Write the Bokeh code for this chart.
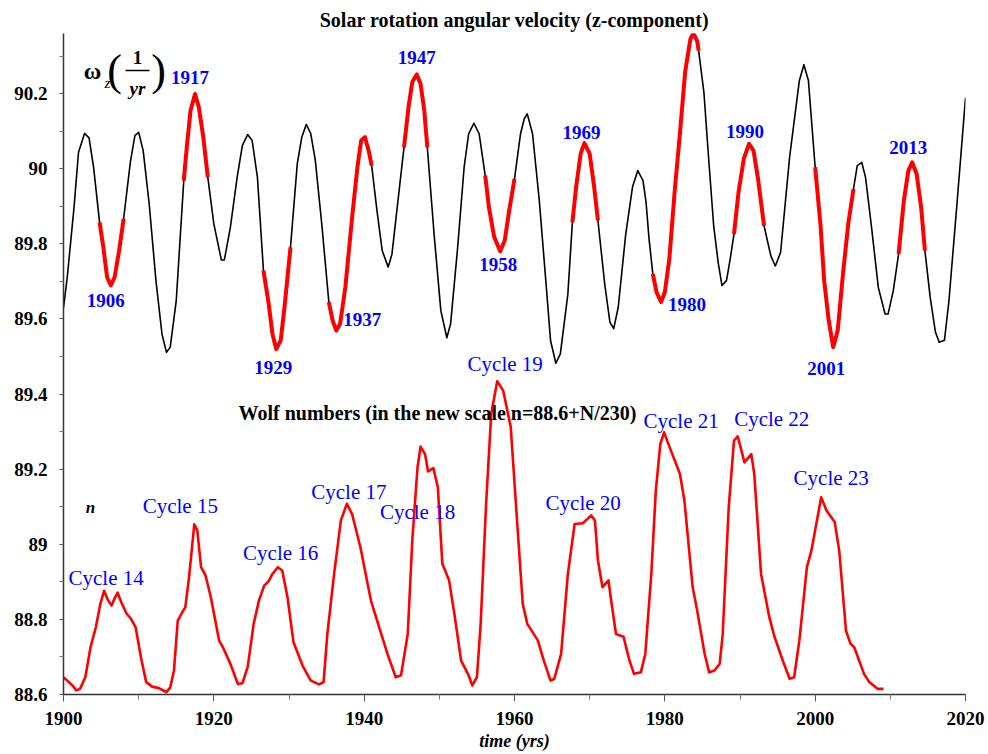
import numpy as np
from bokeh.plotting import figure
from bokeh.models import Range1d, Label, FixedTicker, ColumnDataSource
from bokeh.embed import file_html
from bokeh.resources import INLINE
from bokeh.core.properties import value

# ---------------- data ----------------
omega_years = [1900.0, 1900.5, 1901.4, 1902.0, 1902.8, 1903.4, 1904.0, 1904.8, 1905.3, 1905.8,
               1906.3, 1906.8, 1907.4, 1908.0, 1908.9, 1909.5, 1910.0, 1910.6, 1911.4, 1912.3,
               1913.1, 1913.7, 1914.2, 1915.0, 1916.0, 1916.4, 1916.9, 1917.5, 1918.0, 1918.6,
               1919.2, 1920.0, 1921.0, 1921.4, 1922.2, 1923.1, 1923.8, 1924.5, 1925.1, 1925.8,
               1926.6, 1927.3, 1927.8, 1928.3, 1928.9, 1929.4, 1930.2, 1931.1, 1931.7, 1932.3,
               1932.9, 1933.5, 1934.4, 1935.3, 1935.8, 1936.3, 1936.8, 1937.5, 1938.4, 1939.1,
               1939.6, 1940.1, 1940.6, 1941.0, 1941.7, 1942.4, 1943.2, 1943.7, 1944.6, 1945.3,
               1945.9, 1946.4, 1947.0, 1947.5, 1948.0, 1948.4, 1949.3, 1950.2, 1951.0, 1951.5,
               1952.4, 1953.3, 1953.9, 1954.6, 1955.3, 1956.1, 1956.6, 1957.3, 1958.1, 1958.7,
               1959.3, 1960.0, 1960.8, 1961.3, 1961.7, 1962.4, 1963.3, 1964.2, 1964.8, 1965.5,
               1966.1, 1967.1, 1967.7, 1968.2, 1968.8, 1969.3, 1970.0, 1970.6, 1971.1, 1972.0,
               1972.7, 1973.2, 1973.8, 1974.8, 1975.7, 1976.4, 1977.1, 1977.5, 1977.9, 1978.4,
               1978.9, 1979.5, 1980.0, 1980.6, 1981.3, 1982.1, 1982.7, 1983.4, 1983.8, 1984.3,
               1984.5, 1985.2, 1985.9, 1986.5, 1987.1, 1987.6, 1988.2, 1988.7, 1989.2, 1989.8,
               1990.5, 1991.2, 1991.8, 1992.4, 1993.2, 1994.1, 1994.7, 1995.4, 1996.6, 1997.9,
               1998.5, 1999.1, 2000.0, 2000.7, 2001.2, 2001.8, 2002.4, 2003.0, 2003.7, 2004.4,
               2005.1, 2005.6, 2006.2, 2006.7, 2007.5, 2008.4, 2009.3, 2009.7, 2010.4, 2011.1,
               2011.8, 2012.4, 2012.9, 2013.5, 2014.1, 2014.6, 2015.3, 2016.0, 2016.5, 2017.2,
               2017.8, 2018.9, 2020.0]
omega_values = [89.630, 89.711, 89.897, 90.044, 90.094, 90.082, 90.004, 89.857, 89.791, 89.711,
                89.689, 89.711, 89.782, 89.867, 90.018, 90.088, 90.097, 90.048, 89.906, 89.702,
                89.560, 89.511, 89.525, 89.649, 89.968, 90.057, 90.155, 90.199, 90.164, 90.084,
                89.977, 89.853, 89.757, 89.757, 89.844, 89.977, 90.062, 90.091, 90.075, 89.977,
                89.729, 89.640, 89.560, 89.520, 89.543, 89.631, 89.791, 90.013, 90.084, 90.118,
                90.093, 90.022, 89.844, 89.645, 89.596, 89.569, 89.587, 89.685, 89.871, 90.004,
                90.075, 90.084, 90.048, 90.008, 89.889, 89.782, 89.738, 89.773, 89.933, 90.057,
                90.164, 90.231, 90.251, 90.226, 90.155, 90.057, 89.826, 89.622, 89.550, 89.587,
                89.782, 90.004, 90.093, 90.121, 90.093, 89.982, 89.897, 89.818, 89.780, 89.809,
                89.889, 89.973, 90.093, 90.133, 90.146, 90.093, 89.915, 89.693, 89.542, 89.482,
                89.507, 89.666, 89.857, 89.951, 90.040, 90.068, 90.040, 89.951, 89.862, 89.693,
                89.591, 89.574, 89.631, 89.826, 89.951, 89.995, 89.968, 89.911, 89.813, 89.720,
                89.671, 89.645, 89.671, 89.760, 89.937, 90.115, 90.257, 90.345, 90.361, 90.340,
                90.314, 90.203, 90.008, 89.848, 89.750, 89.689, 89.702, 89.760, 89.826, 89.937,
                90.026, 90.066, 90.048, 89.973, 89.848, 89.768, 89.741, 89.777, 90.031, 90.235,
                90.277, 90.235, 90.004, 89.853, 89.702, 89.596, 89.525, 89.569, 89.720, 89.853,
                89.946, 90.008, 90.017, 89.977, 89.844, 89.684, 89.613, 89.613, 89.676, 89.773,
                89.915, 89.995, 90.017, 89.986, 89.897, 89.782, 89.658, 89.565, 89.538, 89.543,
                89.649, 89.915, 90.189]

# highlighted (red) stretches of the omega curve: start, end years
hl_start = [1904.8, 1916.0, 1926.6, 1935.3, 1945.3, 1956.1, 1967.7, 1978.4, 1989.2, 2000.0, 2011.1]
hl_end   = [1908.0, 1919.2, 1930.2, 1941.0, 1948.4, 1960.0, 1971.1, 1984.5, 1993.2, 2005.1, 2014.6]
hl_labels = ["1906", "1917", "1929", "1937", "1947", "1958", "1969", "1980", "1990", "2001", "2013"]
hl_kind   = ["min", "max", "min", "min", "max", "min", "max", "min", "max", "min", "max"]

wolf_years = [1900.0, 1900.5, 1901.2, 1901.7, 1902.2, 1902.9, 1903.6, 1904.3, 1904.9, 1905.4,
              1905.9, 1906.4, 1906.8, 1907.2, 1907.7, 1908.4, 1909.0, 1909.6, 1910.3, 1911.0,
              1911.8, 1912.7, 1913.7, 1914.2, 1914.7, 1915.2, 1915.8, 1916.2, 1916.7, 1917.4,
              1917.8, 1918.3, 1918.9, 1919.6, 1920.7, 1921.3, 1922.2, 1923.2, 1923.8, 1924.5,
              1925.3, 1926.0, 1926.7, 1927.3, 1927.8, 1928.5, 1929.1, 1929.8, 1930.6, 1931.8,
              1932.9, 1934.0, 1934.6, 1935.1, 1936.0, 1936.9, 1937.7, 1938.4, 1939.5, 1940.9,
              1942.0, 1943.1, 1944.2, 1944.9, 1945.8, 1946.4, 1947.1, 1947.5, 1948.1, 1948.5,
              1949.2, 1949.8, 1950.4, 1951.3, 1952.0, 1952.9, 1953.8, 1954.4, 1955.0, 1955.5,
              1956.2, 1956.9, 1957.7, 1958.5, 1959.5, 1960.4, 1961.1, 1961.7, 1963.1, 1963.9,
              1964.8, 1965.3, 1966.2, 1967.1, 1968.0, 1969.1, 1970.2, 1970.7, 1971.1, 1971.7,
              1972.5, 1972.8, 1973.5, 1974.5, 1975.3, 1975.9, 1976.8, 1977.4, 1978.2, 1978.8,
              1979.4, 1979.9, 1980.8, 1982.0, 1982.6, 1983.7, 1984.3, 1985.3, 1985.9, 1986.6,
              1987.3, 1987.7, 1988.5, 1989.2, 1989.7, 1990.6, 1991.5, 1991.9, 1992.8, 1993.9,
              1994.6, 1995.7, 1996.6, 1997.2, 1997.9, 1998.9, 1999.5, 2000.8, 2001.5, 2002.6,
              2003.2, 2004.1, 2004.7, 2005.2, 2006.5, 2007.2, 2008.3, 2009.1]
wolf_values = [88.646, 88.637, 88.624, 88.611, 88.615, 88.646, 88.726, 88.779, 88.841, 88.876,
               88.852, 88.837, 88.856, 88.871, 88.845, 88.815, 88.801, 88.779, 88.699, 88.633,
               88.621, 88.617, 88.606, 88.619, 88.664, 88.797, 88.819, 88.832, 88.912, 89.053,
               89.037, 88.939, 88.917, 88.859, 88.744, 88.722, 88.682, 88.628, 88.630, 88.673,
               88.788, 88.850, 88.890, 88.902, 88.921, 88.939, 88.930, 88.859, 88.739, 88.677,
               88.637, 88.627, 88.633, 88.761, 88.921, 89.063, 89.108, 89.080, 88.992, 88.850,
               88.779, 88.708, 88.646, 88.651, 88.761, 89.010, 89.205, 89.260, 89.240, 89.194,
               89.203, 89.152, 88.948, 88.904, 88.815, 88.690, 88.655, 88.624, 88.646, 88.788,
               89.099, 89.347, 89.434, 89.409, 89.312, 89.045, 88.841, 88.788, 88.744, 88.690,
               88.637, 88.642, 88.708, 88.921, 89.054, 89.056, 89.077, 89.063, 88.957, 88.886,
               88.904, 88.859, 88.761, 88.754, 88.690, 88.655, 88.659, 88.708, 88.921, 89.143,
               89.267, 89.298, 89.250, 89.188, 89.117, 88.886, 88.824, 88.708, 88.659, 88.664,
               88.682, 88.761, 89.099, 89.276, 89.287, 89.218, 89.240, 89.187, 88.921, 88.806,
               88.753, 88.690, 88.642, 88.646, 88.744, 88.939, 88.983, 89.125, 89.090, 89.059,
               88.983, 88.770, 88.735, 88.726, 88.655, 88.633, 88.615, 88.615]

cycle_labels = ["Cycle 14", "Cycle 15", "Cycle 16", "Cycle 17", "Cycle 18",
                "Cycle 19", "Cycle 20", "Cycle 21", "Cycle 22", "Cycle 23"]
cycle_peak_years = [1905.4, 1917.4, 1928.5, 1937.7, 1947.5, 1957.7, 1970.2, 1979.9, 1989.7, 2000.8]

x_ticks = [1900, 1920, 1940, 1960, 1980, 2000, 2020]
y_ticks = [88.6, 88.8, 89.0, 89.2, 89.4, 89.6, 89.8, 90.0, 90.2]

# ---------------- layout ----------------
W, H = 988, 754
FL, FR, FT, FB = 63, 965, 33, 694      # frame in pixels
X0, X1 = 1900, 2020
Y0, Y1 = 88.6, 90.36

def xd(px):
    return X0 + (px - FL) / (FR - FL) * (X1 - X0)

def yd(py):
    return Y0 + (FB - py) / (FB - FT) * (Y1 - Y0)

SERIF = "Liberation Serif"

p = figure(width=W, height=H, x_range=Range1d(X0, X1), y_range=Range1d(Y0, Y1),
           output_backend="svg", toolbar_location=None,
           min_border_left=FL, min_border_right=W - FR,
           min_border_top=FT, min_border_bottom=H - FB)
p.outline_line_color = None
p.grid.visible = False
p.background_fill_color = "white"
p.border_fill_color = "white"

p.title.text = "Solar rotation angular velocity (z-component)"
p.title.align = "center"
p.title.offset = -17
p.title.text_font = SERIF
p.title.text_font_size = "20px"
p.title.text_font_style = "bold"
p.title.text_color = "black"
p.title.standoff = 5

for ax in (p.xaxis[0], p.yaxis[0]):
    ax.axis_line_color = "#333333"
    ax.axis_line_width = 1.5
    ax.major_tick_line_color = "#555555"
    ax.minor_tick_line_color = "#777777"
    ax.major_tick_in = 0
    ax.minor_tick_in = 0
    ax.major_label_text_font = SERIF
    ax.major_label_text_font_style = "bold"
    ax.major_label_text_font_size = "19px"
    ax.major_label_text_color = "black"

p.xaxis[0].ticker = FixedTicker(ticks=x_ticks, minor_ticks=[t + 10 for t in x_ticks[:-1]])
p.xaxis[0].major_tick_out = 7
p.xaxis[0].minor_tick_out = 5
p.xaxis[0].major_label_standoff = 10
p.xaxis[0].axis_label = "time (yrs)"
p.xaxis[0].axis_label_text_font = SERIF
p.xaxis[0].axis_label_text_font_size = "18px"
p.xaxis[0].axis_label_text_font_style = "bold italic"
p.xaxis[0].axis_label_text_color = "black"
p.xaxis[0].axis_label_standoff = 3
p.yaxis[0].ticker = FixedTicker(ticks=y_ticks, minor_ticks=[round(t + 0.1, 1) for t in y_ticks])
p.yaxis[0].major_tick_out = 4
p.yaxis[0].minor_tick_out = 4
p.yaxis[0].major_label_standoff = 12
p.yaxis[0].major_label_overrides = {t: ("89" if abs(t - 89) < 1e-9 else ("90" if abs(t - 90) < 1e-9 else f"{t:.1f}")) for t in y_ticks}

oy = np.array(omega_years)
ov = np.array(omega_values)
wy = np.array(wolf_years)
wv = np.array(wolf_values)

# omega curve
p.line(oy, ov, line_color="black", line_width=1.6, line_join="round")
lab_x, lab_y = [], []
for a, b, kind in zip(hl_start, hl_end, hl_kind):
    m = (oy >= a - 1e-6) & (oy <= b + 1e-6)
    p.line(oy[m], ov[m], line_color="#ff0000", line_width=4, line_join="round")
    idx = np.where(m)[0]
    j = idx[np.argmin(ov[m])] if kind == "min" else idx[np.argmax(ov[m])]
    lab_x.append(oy[j]); lab_y.append(ov[j])

# wolf numbers curve
p.line(wy, wv, line_color="#ff0000", line_width=2.6, line_join="round")

# year labels near extrema
yr_dx = [-5, -5, -3, 26, 0, -2, -3, 26, -4, -7, -4]
yr_dy = [15, -16, 19, -11, -17, 13, -11, 2, -12, 21, -15]
src_y = ColumnDataSource(dict(x=lab_x, y=lab_y, t=hl_labels, dx=yr_dx, dy=yr_dy))
p.text(x="x", y="y", text="t", x_offset="dx", y_offset="dy", source=src_y,
       text_font=value(SERIF), text_font_style="bold", text_font_size="19px",
       text_color="#0000ff", text_align="center", text_baseline="middle")

# cycle labels near wolf peaks
cx, cy = [], []
for yr in cycle_peak_years:
    j = int(np.argmin(np.abs(wy - yr)))
    cx.append(wy[j]); cy.append(wv[j])
cyc_dx = [2, -14, 3, 2, -3, 8, -8, 17, 34, 10]
cyc_dy = [-13, -18, -14, -12, 65, -17, -12, -11, -17, -19]
src_c = ColumnDataSource(dict(x=cx, y=cy, t=cycle_labels, dx=cyc_dx, dy=cyc_dy))
p.text(x="x", y="y", text="t", x_offset="dx", y_offset="dy", source=src_c,
       text_font=value(SERIF), text_font_size="21px",
       text_color="#0000ff", text_align="center", text_baseline="middle")

def add_label(px, py, text, size, style="bold", align="center"):
    p.add_layout(Label(x=xd(px), y=yd(py), text=text, text_font=SERIF,
                       text_font_size=size, text_font_style=style, text_color="black",
                       text_align=align, text_baseline="middle"))

add_label(437, 412, "Wolf numbers (in the new scale n=88.6+N/230)", "20px")
add_label(90, 507, "n", "17px", "bold italic")
# omega_z (1/yr)
add_label(92, 70, "\u03c9", "24px", "bold")
add_label(107, 82, "z", "15px", "italic")
add_label(114, 70, "(", "44px", "normal")
add_label(158, 70, ")", "44px", "normal")
add_label(137, 57, "1", "19px", "bold")
add_label(137, 88, "yr", "19px", "bold italic")
p.segment(x0=[xd(125)], y0=[yd(70)], x1=[xd(149)], y1=[yd(70)], line_color="black", line_width=1.5)

open("out.html", "w").write(file_html(p, INLINE))
